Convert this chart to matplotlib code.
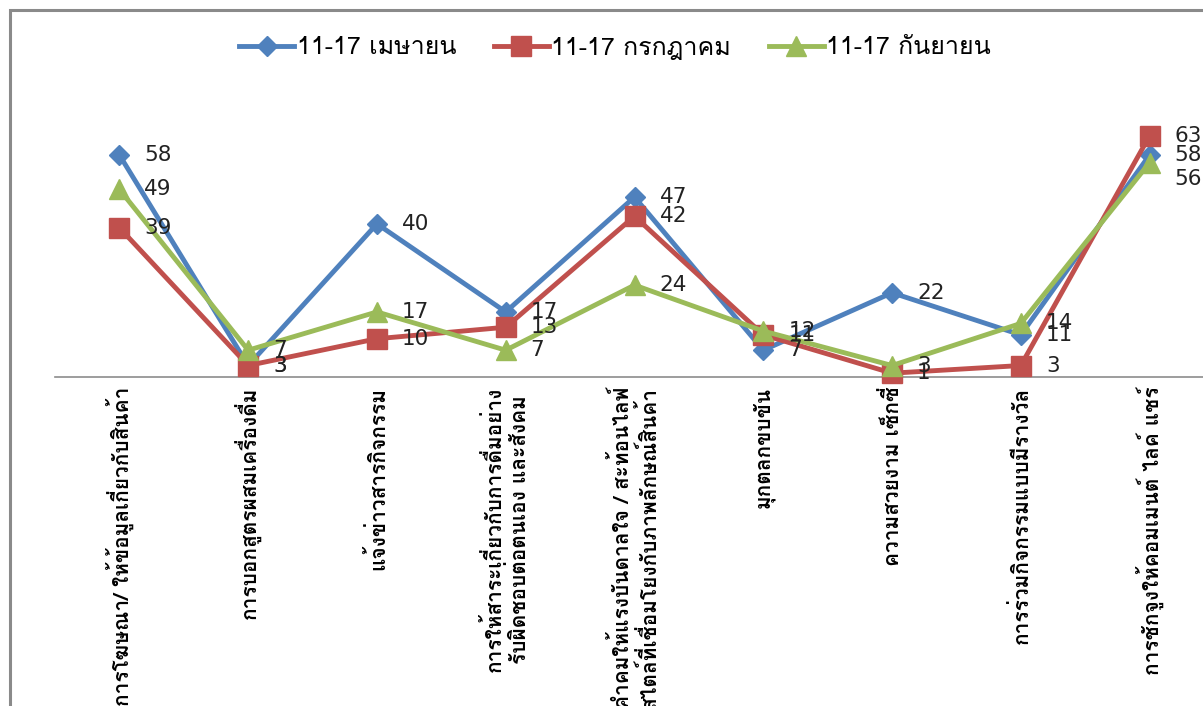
import matplotlib
matplotlib.use("Agg")
import matplotlib.pyplot as plt
from matplotlib import font_manager
from matplotlib.ft2font import FT2Font
from matplotlib.patches import Rectangle

categories = [
    "การโฆษณา/ ให้ข้อมูลเกี่ยวกับสินค้า",
    "การบอกสูตรผสมเครื่องดื่ม",
    "แจ้งข่าวสารกิจกรรม",
    "การให้สาระเกี่ยวกับการดื่มอย่าง\nรับผิดชอบต่อตนเอง และสังคม",
    "คำคมให้แรงบันดาลใจ / สะท้อนไลฟ์\nสไตล์ที่เชื่อมโยงกับภาพลักษณ์สินค้า",
    "มุกตลกขบขัน",
    "ความสวยงาม เซ็กซี่",
    "การร่วมกิจกรรมแบบมีรางวัล",
    "การชักจูงให้คอมเมนต์ ไลค์ แชร์",
]
april = [58, 3, 40, 17, 47, 7, 22, 11, 58]
july = [39, 3, 10, 13, 42, 11, 1, 3, 63]
september = [49, 7, 17, 7, 24, 12, 3, 14, 56]
series_names = ["11-17 เมษายน", "11-17 กรกฎาคม", "11-17 กันยายน"]


def thai_family():
    # pick any installed face that actually carries Thai glyphs
    for f in font_manager.fontManager.ttflist:
        try:
            if 0x0E01 in FT2Font(f.fname).get_charmap():
                return f.name
        except Exception:
            pass
    return None


th = thai_family()
fams = ([th] if th else []) + ["DejaVu Sans"]
plt.rcParams["font.family"] = fams

W, H = 1203, 706
fig = plt.figure(figsize=(W / 100, H / 100), dpi=100)

# plot area in pixel units
left, right, top, base = 55, 1214, 109, 377
ax = fig.add_axes([left / W, 1 - base / H, (right - left) / W, (base - top) / H])

x = list(range(len(categories)))
styles = [
    (april, "#4F81BD", "D", 10),
    (july, "#C0504D", "s", 14),
    (september, "#9BBB59", "^", 15),
]
# labels on the last point would pile up, push the lowest one down a bit
nudge = {(2, 8): -12}
for si, ((vals, col, mk, ms), name) in enumerate(zip(styles, series_names)):
    ax.plot(x, vals, color=col, lw=3.5, marker=mk, markersize=ms,
            markeredgecolor=col, label=name, clip_on=False, zorder=3)
    for xi, v in zip(x, vals):
        ax.annotate(str(v), (xi, v), xytext=(18, nudge.get((si, xi), 0)),
                    textcoords="offset points", ha="left", va="center",
                    fontsize=15.5, color="#222222", family="DejaVu Sans",
                    annotation_clip=False, zorder=4)

ax.set_xlim(-0.5, 8.5)
ax.set_ylim(0, 70)
ax.set_yticks([])
ax.set_xticks(x)
ax.set_xticklabels(categories, rotation=90, va="top", ha="center",
                   fontsize=15, fontweight="bold", multialignment="center")
ax.tick_params(axis="x", length=0, pad=7)
for s in ["top", "left", "right"]:
    ax.spines[s].set_visible(False)
ax.spines["bottom"].set_color("#8c8c8c")
ax.spines["bottom"].set_linewidth(1.2)
ax.patch.set_visible(False)

leg = fig.legend(loc="center", bbox_to_anchor=(615 / W, 1 - 48 / H), ncol=3,
                 frameon=False, fontsize=18, handlelength=2.2, handletextpad=0.1,
                 columnspacing=1.5)

# outer chart frame
fig.patches.append(Rectangle((9.5 / W, -0.1), 1.2, 1 - 9.5 / H + 0.1,
                             transform=fig.transFigure, fill=False,
                             edgecolor="#8a8a8a", lw=2.2, zorder=0))

fig.savefig("out.png", dpi=100)
